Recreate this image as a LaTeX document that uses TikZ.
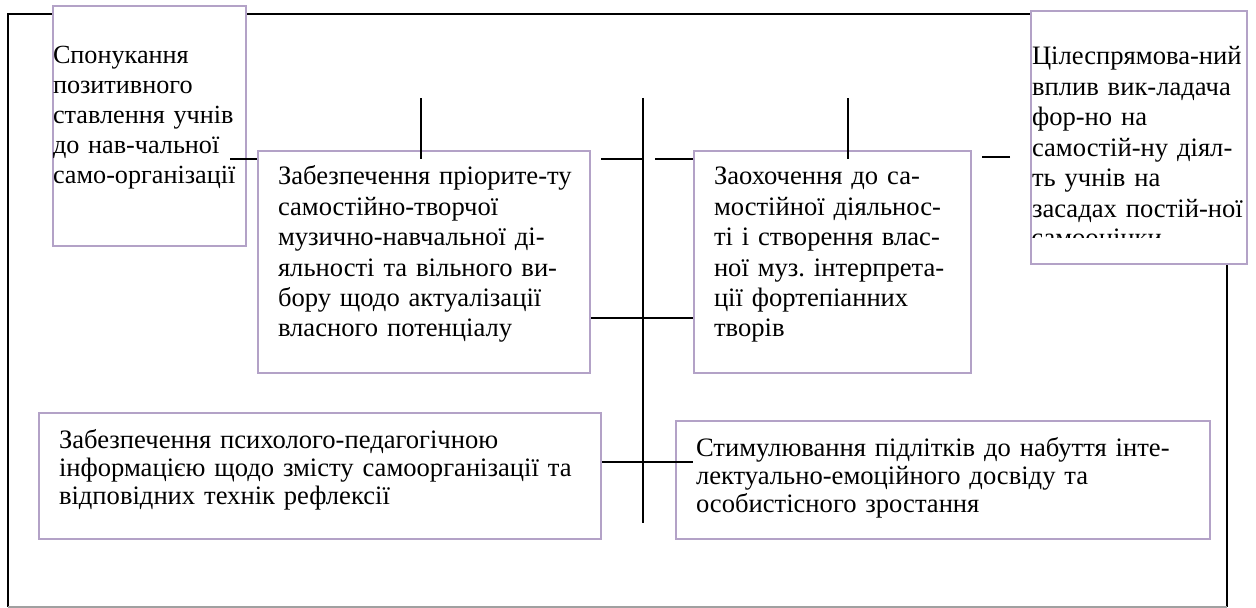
\documentclass[tikz,border=0pt]{standalone}
\usepackage{fontspec}
\setmainfont{Liberation Serif}
\usepackage{tikz}
\usetikzlibrary{calc}
\definecolor{boxlilac}{HTML}{B3A2C7}
\definecolor{framegray}{HTML}{A0A0A0}
\setlength{\parindent}{0pt}
\frenchspacing
\newcommand{\jline}[1]{\makebox[\hsize][s]{#1}}
\newcommand{\lline}[1]{\makebox[\hsize][l]{#1}}

\begin{document}
\begin{tikzpicture}[x=0.5pt, y=-0.5pt,
    block/.style={rectangle, draw=boxlilac, fill=white, line width=1pt, anchor=north west,
      align=left, inner ysep=0pt, font=\fontsize{13.3}{15.2}\selectfont},
    link/.style={draw=black, line width=1pt}]
    \useasboundingbox (0,0) rectangle (1256,608);

    % outer frame
    \draw[line width=1pt] (8,607) -- (8,14) -- (1227,14) -- (1227,607);
    \draw[framegray, line width=0.8pt] (8,607) -- (1227,607);

    \node (spon) [block, text width=96.5pt, inner xsep=0pt, font=\fontsize{13.1}{14.9}\selectfont] at (52,5)
      {\rule{0pt}{29pt}\lline{Спонукання}\\ \lline{позитивного}\\ \lline{ставлення учнів}\\ \lline{до нав-чальної}\\
       \lline{само-організації}\rule[-31.5pt]{0pt}{0pt}};
    \node (prior) [block, text width=146pt, inner xsep=10pt] at (257,150)
      {\rule{0pt}{17pt}\jline{Забезпечення пріорите-ту}\\ самостійно-творчої\\ \jline{музично-навчальної ді-}\\
       \jline{яльності та вільного ви-}\\ \jline{бору щодо актуалізації}\\ власного потенціалу\rule[-18pt]{0pt}{0pt}};
    \node (zaoh) [block, text width=118.5pt, inner xsep=10pt] at (693,150)
      {\rule{0pt}{17pt}\lline{Заохочення до са-}\\ \lline{мостійної діяльнос-}\\ \lline{ті і створення влас-}\\
       \lline{ної муз. інтерпрета-}\\ \lline{ції фортепіанних}\\ \lline{творів}\rule[-18pt]{0pt}{0pt}};
    \node (vplyv) [block, text width=107pt, inner xsep=0.5pt, font=\fontsize{13.3}{15.25}\selectfont] at (1030,10)
      {\rule{0pt}{27pt}\lline{Цілеспрямова-ний}\\ \lline{вплив вик-ладача}\\ \lline{фор-но на}\\ \lline{самостій-ну діял-}\\
       \lline{ть учнів на}\\ \lline{засадах постій-ної}\rule[-23.25pt]{0pt}{0pt}};
    \node (psych) [block, text width=261pt, inner xsep=10pt, font=\fontsize{13.3}{14.15}\selectfont] at (38,412)
      {\rule{0pt}{17.5pt}Забезпечення психолого-педагогічною\\ інформацією щодо змісту самоорганізації та\\
       відповідних технік рефлексії\rule[-17.2pt]{0pt}{0pt}};
    \node (stym) [block, text width=247pt, inner xsep=10pt, font=\fontsize{13.3}{14.15}\selectfont] at (675,420)
      {\rule{0pt}{17.5pt}Стимулювання підлітків до набуття інте-\\ лектуально-емоційного досвіду та\\
       особистісного зростання\rule[-13.2pt]{0pt}{0pt}};

    % line cut off by the box edge
    \begin{scope}
      \clip (1030,10) rectangle (1246,238);
      \node (samoots) [anchor=base west, inner sep=0pt, font=\fontsize{13.3}{15.25}\selectfont] at (1031,247) {самооцінки};
    \end{scope}

    % axis and ticks
    \coordinate (axtop) at (643,98);
    \coordinate (axbot) at (643,523);
    \draw[link] (axtop) -- (axbot);
    \draw[link] ($(spon.north east)+(-17,154)$) -- ($(prior.north west)+(0,9)$);
    \draw[link] ($(prior.north)+(-3,9)$) -- ++(0,-61);
    \draw[link] ($(prior.north east)+(10,9)$) coordinate (p1) -- (p1 -| axtop);
    \draw[link] ($(zaoh.north west)+(0,9)$) -- ++(-38,0);
    \draw[link] ($(zaoh.north)+(15.5,9)$) -- ++(0,-61);
    \draw[link] ($(vplyv.north west)+(-20,147)$) -- ++(-28,0);
    \draw[link] ($(prior.north east)+(0,168)$) -- ($(zaoh.north west)+(0,168)$);
    \draw[link] ($(psych.north east)+(0,50)$) -- ($(stym.north west)+(18,42)$);
\end{tikzpicture}
\end{document}
